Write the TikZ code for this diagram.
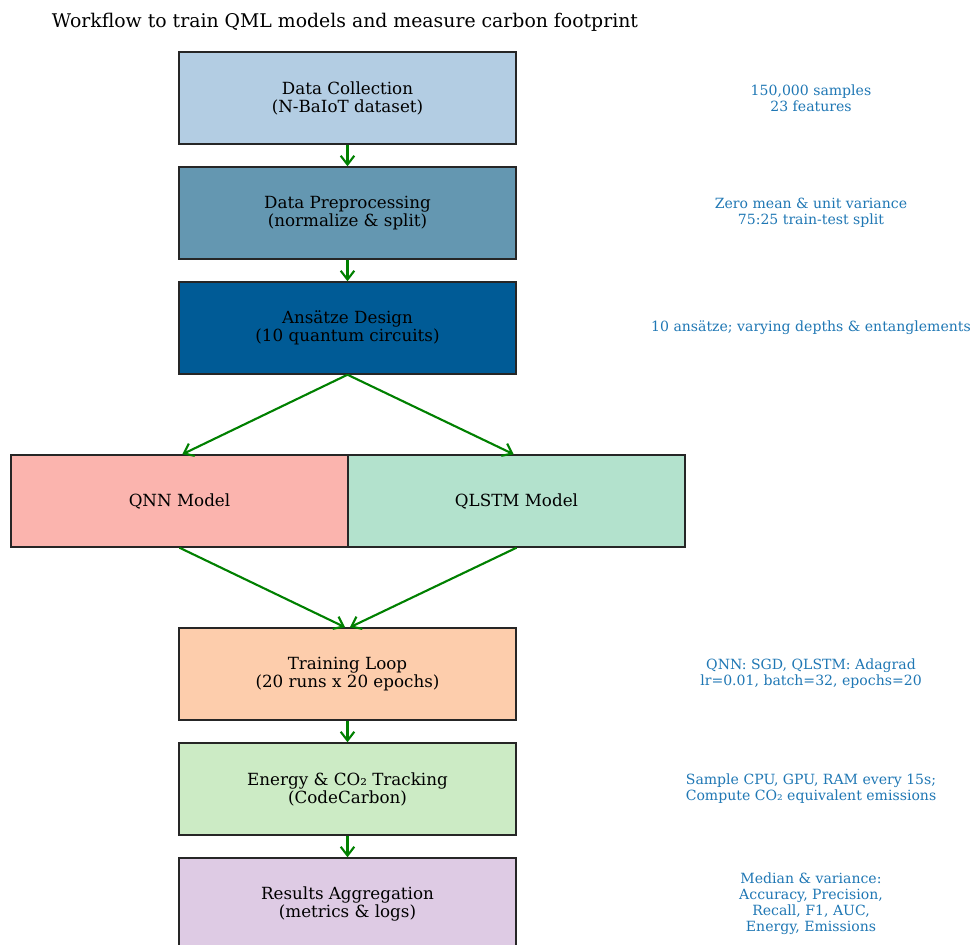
\documentclass[tikz,border=0pt]{standalone}
\usepackage{fontspec}
\setmainfont{DejaVu Serif}
\usetikzlibrary{arrows.meta, positioning}

\definecolor{collectfill}{HTML}{B3CDE3}
\definecolor{prepfill}{HTML}{6497B1}
\definecolor{ansatzfill}{HTML}{005B96}
\definecolor{qnnfill}{HTML}{FBB4AE}
\definecolor{qlstmfill}{HTML}{B3E2CD}
\definecolor{trainfill}{HTML}{FDCDAC}
\definecolor{trackfill}{HTML}{CCEBC5}
\definecolor{resultfill}{HTML}{DECBE4}
\definecolor{noteblue}{HTML}{1F77B4}
\definecolor{flowgreen}{HTML}{008000}

\begin{document}
\begin{tikzpicture}[x=0.025cm, y=-0.025cm,
		stage/.style={draw=black!85, line width=1pt, minimum width=8.425cm, minimum height=2.3cm,
			inner sep=0pt, align=center, font=\fontsize{11.9}{12.8}\selectfont},
		note/.style={text=noteblue, align=center, font=\fontsize{10}{11.4}\selectfont},
		flow/.style={draw=flowgreen, line width=1.5pt, -{Straight Barb[length=2.2mm,width=3.4mm]}}]
		\useasboundingbox (0,0) rectangle (972,945);

		\node[font=\fontsize{13.4}{15}\selectfont] (title) at (345,22) {Workflow to train QML models and measure carbon footprint};

		\node[stage, fill=collectfill] (collect) at (347.5,98) {Data Collection\\(N-BaIoT dataset)};
		\node[stage, fill=prepfill] (prep) at (347.5,213) {Data Preprocessing\\(normalize \& split)};
		\node[stage, fill=ansatzfill] (ansatz) at (347.5,328) {Ansätze Design\\(10 quantum circuits)};
		\node[stage, fill=qnnfill] (qnn) at (179.5,501) {QNN Model};
		\node[stage, fill=qlstmfill] (qlstm) at (516.5,501) {QLSTM Model};
		\node[stage, fill=trainfill] (train) at (347.5,674) {Training Loop\\(20 runs x 20 epochs)};
		\node[stage, fill=trackfill] (track) at (347.5,789) {Energy \& CO₂ Tracking\\(CodeCarbon)};
		\node[stage, fill=resultfill] (results) at (347.5,904) {Results Aggregation\\(metrics \& logs)};

		\draw[flow] (collect) -- (prep);
		\draw[flow] (prep) -- (ansatz);
		\draw[flow] (ansatz.south) -- ([xshift=0.07cm]qnn.north);
		\draw[flow] (ansatz.south) -- ([xshift=-0.07cm]qlstm.north);
		\draw[flow] (qnn.south) -- ([xshift=-0.06cm]train.north);
		\draw[flow] (qlstm.south) -- ([xshift=0.06cm]train.north);
		\draw[flow] (train) -- (track);
		\draw[flow] (track) -- (results);

		% Annotations
		\node[note] (collect-note) at (811,98) {150,000 samples\\23 features};
		\node[note] (prep-note) at (811,213) {Zero mean \& unit variance\\75:25 train-test split};
		\node[note] (ansatz-note) at (811,328) {10 ansätze; varying depths \& entanglements};
		\node[note] (train-note) at (811,674) {QNN: SGD, QLSTM: Adagrad\\lr=0.01, batch=32, epochs=20};
		\node[note] (track-note) at (811,789) {Sample CPU, GPU, RAM every 15s;\\Compute CO₂ equivalent emissions};
		\node[note] (results-note) at (811,904) {Median \& variance:\\Accuracy, Precision,\\Recall, F1, AUC,\\Energy, Emissions};
	\end{tikzpicture}
\end{document}
